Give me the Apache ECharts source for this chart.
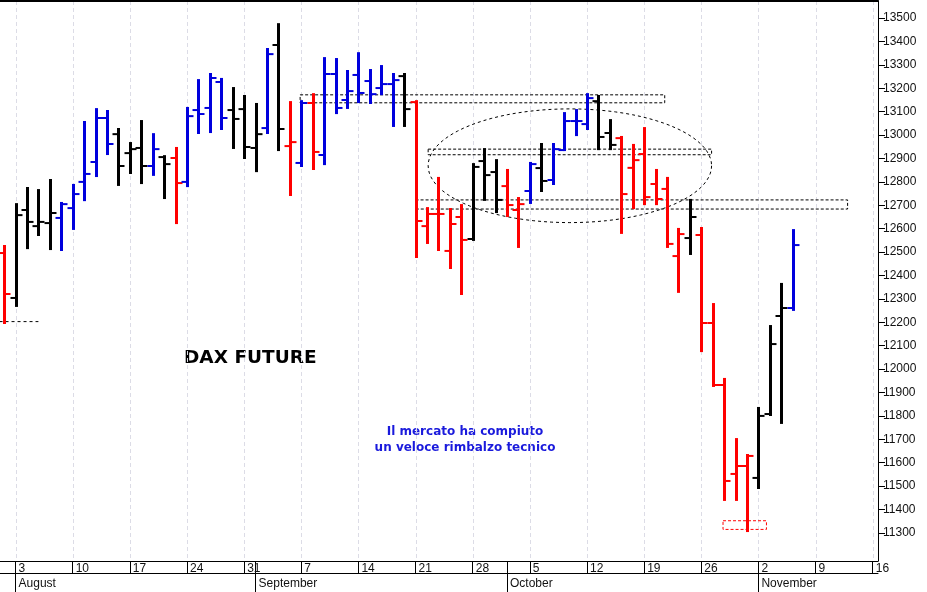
<!DOCTYPE html>
<html><head><meta charset="utf-8">
<script src="https://cdn.jsdelivr.net/npm/echarts@6/dist/echarts.min.js"></script>
<style>html,body{margin:0;padding:0;background:#fff}#c{width:927px;height:592px}</style>
</head><body><div id="c"></div>
<script>
// trading-day index: 0 = Mon 3 August
const dayIndex = [-1,0,1,2,3,4,5,6,7,8,9,10,11,12,13,14,15,16,17,18,19,20,21,22,23,24,25,26,27,28,29,30,31,32,33,34,35,36,37,38,39,40,41,42,43,44,45,46,47,48,49,50,51,52,53,54,55,56,57,58,59,60,61,62,63,64,65,66,67,68];
const opens  = [12496,12304,12680,12611,12624,12646,12688,12800,12885,13073,13004,12923,12945,12868,12906,12902,12800,13107,13116,13227,13107,13111,12945,13030,13385,12953,12881,13137,12915,13261,13150,13257,13231,13201,13218,13252,13141,12611,12663,12505,12650,12556,12889,12842,12782,12680,12761,12859,12808,12936,13060,13047,13145,13009,12987,12860,12919,12791,12770,12483,12560,12573,12197,11932,11552,11586,11535,11808,12227,12261];
const highs  = [12526,12705,12774,12765,12808,12710,12787,13056,13111,13103,13026,12966,13060,13004,12910,12945,13116,13235,13261,13240,13201,13167,13133,13368,13474,13141,13145,13175,13329,13325,13274,13350,13278,13295,13261,13261,13145,12688,12817,12684,12701,12876,12940,12893,12851,12731,12881,12962,12962,13094,13107,13175,13167,13064,12992,12958,13030,12851,12817,12599,12723,12603,12278,11958,11701,11633,11834,12184,12364,12594];
const lows   = [12197,12270,12517,12573,12513,12509,12599,12722,12825,12919,12787,12838,12795,12830,12731,12624,12782,13009,13013,13026,12945,12902,12846,13009,12936,12744,12868,12855,12876,13094,13116,13141,13137,13175,13039,13039,12479,12539,12509,12432,12321,12552,12723,12671,12654,12522,12710,12761,12791,12936,13000,13026,12940,12940,12582,12688,12705,12705,12522,12330,12492,12077,11928,11441,11441,11308,11492,11804,11770,12253];
const closes = [12321,12658,12629,12629,12667,12705,12748,12834,13073,12962,12868,12940,12868,12940,12876,12795,13081,13090,13244,13073,13069,12949,13004,13346,13026,12970,13137,12928,13261,13116,13188,13180,13175,13218,13235,13111,12633,12663,12663,12620,12552,12864,12829,12723,12701,12705,12876,12804,12940,13060,13060,13158,12992,12958,12748,12893,12735,12727,12535,12577,12650,12197,11932,11522,11586,11629,11800,12107,12261,12530];
const barColors = ['r','k','k','k','k','b','b','b','b','b','k','k','k','b','k','r','b','b','b','b','k','k','k','b','k','r','b','r','b','b','b','b','b','b','b','k','r','r','r','r','r','k','k','k','r','r','b','k','b','b','b','b','k','k','r','r','r','r','r','r','k','r','r','r','r','r','k','k','k','b'];
const mondayIdx = [0,5,10,15,20,25,30,35,40,45,50,55,60,65,70,75];
const dayLabels = ['3','10','17','24','31','7','14','21','28','5','12','19','26','2','9','16'];
const monthStartIdx = [0,21,43,65];
const monthLabels = ['August','September','October','November'];
const yLabels = [11300,11400,11500,11600,11700,11800,11900,12000,12100,12200,12300,12400,12500,12600,12700,12800,12900,13000,13100,13200,13300,13400,13500];
// annotation boxes: [xStart, xEnd, yTop, yBottom]
const boxes = [[24.9,56.8,13172,13138],[36.1,60.9,12940,12916],[35.0,72.8,12723,12684],[61.9,65.7,11352,11315]];
const boxColors = ['#000','#000','#000','#f00'];
const supportLine = [[-1.4,12203],[2.0,12203]];
const ellipse = [[48.5,12869,12.4,243]];

const colorMap = {r:'#ff0000', k:'#000000', b:'#0000dd'};
const ohlc = dayIndex.map((d,i)=>[d,opens[i],closes[i],lows[i],highs[i]]);
const XMIN=-1.36, XMAX=75.46, YMIN=11180, YMAX=13573;
const chart = echarts.init(document.getElementById('c'));
const font = 'Liberation Sans, Arial, sans-serif';
chart.setOption({
  animation:false,
  grid:{left:0,right:49,top:1,bottom:31},
  xAxis:[
    {type:'value',min:XMIN,max:XMAX,position:'bottom',
     axisLine:{show:true,onZero:false,lineStyle:{color:'#000',width:1}},
     axisTick:{show:true,length:12,customValues:mondayIdx.concat([21,43]),lineStyle:{color:'#000'}},
     axisLabel:{customValues:mondayIdx,formatter:v=>dayLabels[Math.round(v/5)],align:'left',padding:[0,0,0,3],margin:2,fontSize:12,color:'#111',fontFamily:font,verticalAlign:'top'},
     splitLine:{show:false}},
    {type:'value',min:XMIN,max:XMAX,position:'bottom',offset:12,
     axisLine:{show:true,onZero:false,lineStyle:{color:'#000',width:1}},
     axisTick:{show:true,length:19,customValues:monthStartIdx,lineStyle:{color:'#000'}},
     axisLabel:{customValues:monthStartIdx,formatter:v=>monthLabels[monthStartIdx.indexOf(Math.round(v))],align:'left',padding:[0,0,0,3],margin:5,fontSize:12,color:'#111',fontFamily:font,verticalAlign:'top'},
     splitLine:{show:false}},
    {type:'value',min:XMIN,max:XMAX,position:'top',
     axisLine:{show:true,onZero:false,lineStyle:{color:'#000',width:2}},
     axisTick:{show:false},axisLabel:{show:false},splitLine:{show:false}}
  ],
  yAxis:[
    {type:'value',min:YMIN,max:YMAX,position:'right',
     axisLine:{show:true,onZero:false,lineStyle:{color:'#000'}},
     axisTick:{show:true,length:7,customValues:yLabels,lineStyle:{color:'#000'}},
     axisLabel:{customValues:yLabels,formatter:v=>String(v),margin:5,fontSize:12,color:'#111',fontFamily:font},
     splitLine:{show:false}}
  ],
  series:[
    {type:'custom',xAxisIndex:0,yAxisIndex:0,data:mondayIdx.map(v=>[v]),silent:true,z:0,clip:true,
     renderItem:(params,api)=>{
       const t=api.coord([api.value(0),YMAX]), b=api.coord([api.value(0),YMIN]);
       const x=Math.round(t[0])+0.5;
       return {type:'line',shape:{x1:x,y1:t[1],x2:x,y2:b[1]},style:{stroke:'#dcdce6',lineWidth:1,lineDash:[4,3]}};
     }},
    {type:'custom',xAxisIndex:0,yAxisIndex:0,data:ellipse,silent:true,z:1,
     renderItem:(params,api)=>{
       const c=api.coord([api.value(0),api.value(1)]);
       const rx=api.size([api.value(2),0])[0], ry=api.size([0,api.value(3)])[1];
       const pts=[];for(let k=0;k<=96;k++){const a=k/96*2*Math.PI;pts.push([c[0]+rx*Math.cos(a),c[1]+ry*Math.sin(a)]);}
       return {type:'polyline',shape:{points:pts},style:{stroke:'#000',fill:null,lineWidth:1,lineDash:[3,3]}};
     }},
    {type:'custom',xAxisIndex:0,yAxisIndex:0,data:boxes,silent:true,z:1,
     renderItem:(params,api)=>{
       const a=api.coord([api.value(0),api.value(2)]), b=api.coord([api.value(1),api.value(3)]);
       return {type:'rect',shape:{x:a[0],y:a[1],width:b[0]-a[0],height:b[1]-a[1]},style:{stroke:boxColors[params.dataIndex],fill:null,lineWidth:1,lineDash:[3,2]}};
     }},
    {type:'line',xAxisIndex:0,yAxisIndex:0,data:supportLine,symbol:'none',silent:true,lineStyle:{color:'#000',width:1,type:[3,3]},z:1},
    {type:'custom',xAxisIndex:0,yAxisIndex:0,data:ohlc,z:5,
     renderItem:(params,api)=>{
       const x=api.value(0);
       const o=api.coord([x,api.value(1)]), c=api.coord([x,api.value(2)]), l=api.coord([x,api.value(3)]), h=api.coord([x,api.value(4)]);
       const col=colorMap[barColors[params.dataIndex]];
       const xx=Math.round(h[0])+0.5;
       return {type:'group',children:[
         {type:'line',shape:{x1:xx,y1:h[1]-1,x2:xx,y2:l[1]+1},style:{stroke:col,lineWidth:3}},
         {type:'line',shape:{x1:xx-6,y1:o[1],x2:xx,y2:o[1]},style:{stroke:col,lineWidth:2}},
         {type:'line',shape:{x1:xx,y1:c[1],x2:xx+6,y2:c[1]},style:{stroke:col,lineWidth:2}}
       ]};
     }}
  ],
  graphic:[
    {type:'text',left:184,top:349,style:{text:'DAX FUTURE',font:'bold 18.5px "DejaVu Sans", Verdana, sans-serif',fill:'#000'}},
    {type:'text',x:465,y:440,style:{text:'Il mercato ha compiuto\nun veloce rimbalzo tecnico',font:'bold 12px "DejaVu Sans", Verdana, sans-serif',fill:'#1a1adc',align:'center',verticalAlign:'middle',lineHeight:16}}
  ]
});
</script></body></html>
